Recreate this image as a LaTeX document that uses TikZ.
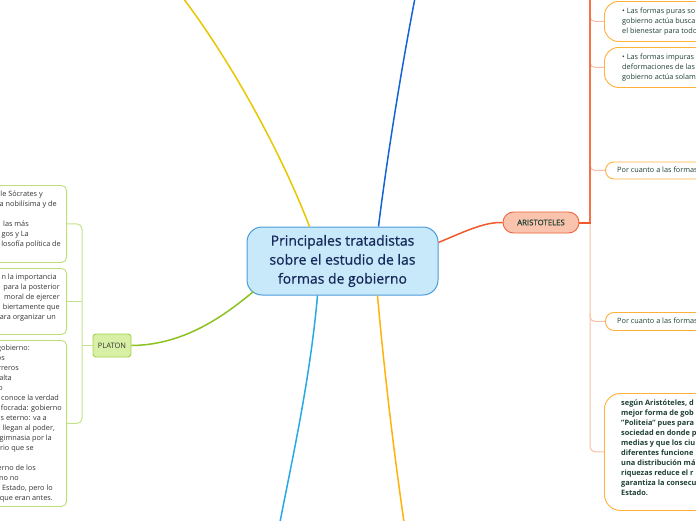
\documentclass[tikz,border=0pt]{standalone}
\usepackage{fontspec}
\setmainfont{Open Sans}
\newfontfamily\semibf[FakeBold=0.7]{Open Sans}
\usetikzlibrary{calc}
\definecolor{cfill}{HTML}{C7E9FA}
\definecolor{cborder}{HTML}{4C9BD9}
\definecolor{ctext}{HTML}{17285A}
\definecolor{cyellow}{HTML}{E8C700}
\definecolor{cdblue}{HTML}{1464D6}
\definecolor{clblue}{HTML}{27A9E6}
\definecolor{corange}{HTML}{FFB20A}
\definecolor{cgreen}{HTML}{8CC220}
\definecolor{cred}{HTML}{F0592A}
\definecolor{pfill}{HTML}{D8F0A6}
\definecolor{pborder}{HTML}{A4D244}
\definecolor{lboxb}{HTML}{BCDF7A}
\definecolor{lline}{HTML}{C3E38C}
\definecolor{afill}{HTML}{F9C3AE}
\definecolor{aborder}{HTML}{F0643A}
\definecolor{rboxb}{HTML}{FFB13B}
\definecolor{rline}{HTML}{F9BFA8}
\definecolor{rtext}{HTML}{1E4032}
\definecolor{ltext}{HTML}{333333}
\tikzset{
  central/.style={draw=cborder, fill=cfill, rounded corners=15pt, line width=1pt,
    minimum width=191pt, minimum height=68pt, align=center, inner sep=0pt,
    font=\semibf\fontsize{14}{19}\selectfont, text=ctext},
  branch/.style={line width=1.5pt},
  lbox/.style={draw=lboxb, fill=white, rounded corners=5pt, line width=0.9pt, anchor=north east, minimum width=200pt},
  rbox/.style={draw=rboxb, fill=white, line width=0.9pt, anchor=north west, minimum width=200pt},
  ltxt/.style={inner sep=0pt, anchor=base east, text=ltext, font=\fontsize{7.3}{10}\selectfont},
  rtxt/.style={inner sep=0pt, anchor=base west, text=rtext, font=\fontsize{7.3}{10}\selectfont},
  rbtxt/.style={inner sep=0pt, anchor=base west, text=rtext, font=\fontsize{7.4}{10}\selectfont\bfseries},
  platon/.style={draw=pborder, fill=pfill, rounded corners=3pt, line width=0.9pt, minimum width=38pt, minimum height=23pt, inner sep=0pt, text=ltext, font=\fontsize{7.5}{9}\selectfont},
  aristo/.style={draw=aborder, fill=afill, rounded corners=10.5pt, line width=0.9pt, minimum width=76pt, minimum height=21pt, inner sep=0pt, text=rtext, font=\semibf\fontsize{7.8}{9}\selectfont},
  bracketl/.style={draw=lline, line width=1pt},
  bracketr/.style={draw=rline, line width=1pt},
}
\begin{document}
\begin{tikzpicture}[x=1pt,y=-1pt]
\useasboundingbox (0,0) rectangle (696,520);
\clip (0,0) rectangle (696,520);

% central topic
\node[central] (c) at (342.5,261) {Principales tratadistas\\sobre el estudio de las\\formas de gobierno};

% free ends of branches leaving the picture
\coordinate (yend) at (183,-2);
\coordinate (dbend) at (415,-2);
\coordinate (lbend) at (280,522);
\coordinate (oend) at (404,522);

% main branches
\draw[branch, cyellow] ($(c.north west)+(63,0)$) .. controls (280,150) and (230,60) .. (yend);
\draw[branch, cdblue] ($(c.north west)+(132,0)$) .. controls (388,150) and (403,60) .. (dbend);
\draw[branch, clblue] ($(c.south west)+(71,0)$) .. controls (310,380) and (292,460) .. (lbend);
\draw[branch, corange] ($(c.south west)+(131,0)$) .. controls (385,380) and (395,460) .. (oend);

% PLATON
\node[platon] (pl) at (112,345.5) {PLATON};
\draw[branch, cgreen] ($(c.south west)+(7,-4)$) .. controls (225,315) and (185,345) .. (pl.east);

% ARISTOTELES
\node[aristo] (ar) at (541,222.5) {ARISTOTELES};
\draw[branch, cred] ($(c.north east)+(0,16)$) .. controls (468,230) and (485,222) .. (ar.west);

% left boxes (Platon)
\node[lbox, minimum height=77pt] (b1) at (67,185) {};
\node[lbox, minimum height=66pt] (b2) at (67,268) {};
\node[lbox, minimum height=166pt] (b3) at (67,340) {};
\coordinate (lv) at (82,0);
\draw[bracketl, rounded corners=5pt] (b1.east) -| ($(b3.east -| lv)$) -- (b3.east);
\draw[bracketl] (b2.east) -- (b2.east -| lv);
\draw[bracketl] (pl.west) -- (pl.west -| lv);

\foreach \yy/\xx/\tx [count=\i] in {
  194/43/{le Sócrates y},
  204/57/{a nobilísima y de},
  224/29/{las más},
  234/29/{gos y La},
  244/61/{losofía política de},
  277/57/{n la importancia},
  287/60/{para la posterior},
  297/60/{moral de ejercer},
  307/60/{biertamente que},
  317/56/{ara organizar un},
  348/30/{gobierno:},
  358/5/{os},
  368/19/{rreros},
  378/12/{alta},
  388/3/{o},
  398/59/{conoce la verdad},
  408/62/{focrada: gobierno},
  418/47/{s eterno: va a},
  428/55/{llegan al poder,},
  438/52/{gimnasia por la},
  448/34/{rio que se},
  468/36/{erno de los},
  478/19/{no no},
  488/53/{Estado, pero lo},
  498/53/{que eran antes.}}
{
  \node[ltxt] (lt\i) at (\xx,\yy+2.6) {\tx};
}

% right boxes (Aristoteles)
\node[rbox, rounded corners=14pt, minimum height=40pt] (r1) at (604,1) {};
\node[rbox, rounded corners=14pt, minimum height=40pt] (r2) at (604,47) {};
\node[rbox, rounded corners=8.5pt, minimum height=17pt] (r3) at (605,161.5) {};
\node[rbox, rounded corners=8.5pt, minimum height=18pt] (r4) at (605,312) {};
\node[rbox, rounded corners=16pt, minimum height=117pt] (r5) at (604,393) {};

\coordinate (rv) at (590,0);
\coordinate (rtop) at (590,-5);
\foreach \b in {r1,r2,r3,r4}{
  \draw[bracketr, rounded corners=5pt] ($(\b.west -| rv)+(0,-8)$) |- (\b.west);
}
\draw[bracketr, rounded corners=6pt] (ar.east -| rv) |- (r5.west);
\draw[line width=1.3pt, draw=cred!85] (ar.east -| rv) -- (rtop);
\draw[line width=2pt, draw=cred] (ar.east) -- ($(ar.east -| rv)+(0.6,0)$);

\foreach \yy/\xx/\tx [count=\i] in {
  11/622/{• Las formas puras so},
  21/622/{gobierno actúa busca},
  31/622/{el bienestar para todo},
  57/622/{• Las formas impuras},
  67/622/{deformaciones de las},
  77/622/{gobierno actúa solam},
  170/617/{Por cuanto a las formas},
  321/617/{Por cuanto a las formas}}
{
  \node[rtxt] (rt\i) at (\xx,\yy+2.6) {\tx};
}
\foreach \yy/\tx [count=\i] in {
  403/{según Aristóteles, d},
  413/{mejor forma de gob},
  423/{"Politeia" pues para},
  433/{sociedad en donde p},
  443/{medias y que los ciu},
  453/{diferentes funcione},
  463/{una distribución má},
  473/{riquezas reduce el r},
  483/{garantiza la consecu},
  493/{Estado.}}
{
  \node[rbtxt] (rb\i) at (621,\yy+2.6) {\tx};
}
\end{tikzpicture}
\end{document}
